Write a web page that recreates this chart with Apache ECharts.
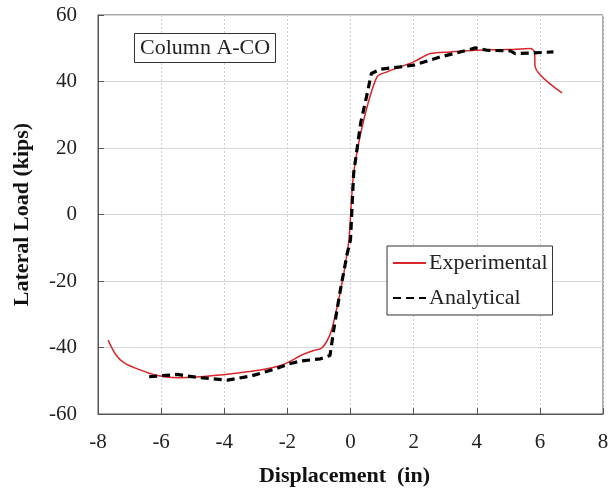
<!DOCTYPE html>
<html>
<head>
<meta charset="utf-8">
<script src="https://cdn.jsdelivr.net/npm/echarts@6/dist/echarts.min.js"></script>
<style>
  html, body { margin: 0; padding: 0; background: #fff; }
  #chart { width: 608px; height: 491px; }
</style>
</head>
<body>
<div id="chart"></div>
<script>
    // displacement (in) vs lateral load (kips)
    var expX = [-7.68, -7.44, -7.17, -6.65, -6.12, -5.48, -4.75, -3.70, -2.85, -2.22, -1.90, -1.58, -1.16, -0.90, -0.63, -0.42, -0.21, -0.05, 0.10, 0.42, 0.84, 1.16, 1.58, 2.00, 2.53, 3.16, 4.00, 4.96, 5.70, 5.83, 5.85, 6.70];
    var expY = [-37.8, -42.1, -44.6, -46.8, -48.4, -49.1, -48.8, -47.8, -46.8, -45.4, -44.1, -42.4, -40.9, -40.1, -35.6, -27.6, -17.6, -7.6, 12.4, 28.4, 41.4, 42.9, 44.4, 45.9, 48.4, 48.9, 49.4, 49.6, 49.9, 48.9, 44.4, 36.6];

    var anaX = [-6.38, -5.48, -5.17, -4.75, -3.90, -3.16, -2.43, -1.90, -1.58, -0.95, -0.65, -0.53, -0.32, -0.10, 0.00, 0.10, 0.32, 0.53, 0.66, 0.95, 1.58, 2.00, 2.85, 3.69, 3.96, 4.33, 5.06, 5.22, 5.80, 6.43];
    var anaY = [-48.8, -48.1, -48.6, -49.1, -49.8, -48.6, -46.6, -44.8, -44.1, -43.4, -42.4, -34.6, -22.6, -11.6, -7.6, 12.4, 27.4, 36.4, 42.4, 43.7, 44.4, 44.9, 47.4, 49.4, 50.1, 49.4, 49.2, 48.4, 48.6, 48.9];

    function pairs(xs, ys) {
        var out = [];
        for (var i = 0; i < xs.length; i++) {
            out.push([xs[i], ys[i]]);
        }
        return out;
    }

    var font = '"Liberation Serif", "Times New Roman", serif';
    var myChart = echarts.init(document.getElementById('chart'));

    var option = {
        animation: false,
        backgroundColor: '#fff',
        textStyle: { fontFamily: font },
        title: {
            text: 'Column A-CO',
            left: 134,
            top: 33,
            padding: [4, 6, 3, 6],
            borderColor: '#333',
            borderWidth: 1,
            backgroundColor: '#fff',
            textStyle: { fontFamily: font, fontSize: 22, lineHeight: 23, fontWeight: 'normal', color: '#222' }
        },
        legend: {
            orient: 'vertical',
            left: 387,
            top: 246,
            itemGap: 11,
            itemWidth: 33,
            itemHeight: 12,
            padding: [5, 5, 5, 5],
            borderColor: '#333',
            borderWidth: 1,
            backgroundColor: '#fff',
            textStyle: { fontFamily: font, fontSize: 22, lineHeight: 24, color: '#222', padding: [0, 0, 0, -2] },
            data: [
                { name: 'Experimental', itemStyle: { opacity: 0 } },
                { name: 'Analytical', itemStyle: { opacity: 0 } }
            ]
        },
        grid: { left: 98, right: 5, top: 15, bottom: 77, outerBoundsMode: 'none', containLabel: false, show: true, borderColor: '#555', borderWidth: 1 },
        xAxis: {
            type: 'value',
            min: -8,
            max: 8,
            interval: 2,
            name: 'Displacement  (in)',
            nameLocation: 'middle',
            nameGap: 51,
            nameTextStyle: { fontFamily: font, fontSize: 22, fontWeight: 'bold', color: '#111', padding: [0, 12, 0, 0] },
            axisLine: { show: true, onZero: false, lineStyle: { color: '#555' } },
            axisTick: { show: true, inside: true, length: 6, lineStyle: { color: '#555' } },
            axisLabel: { fontFamily: font, fontSize: 21, color: '#222', margin: 18 },
            splitLine: { show: true, lineStyle: { color: '#d0d0d0', type: [2, 2] } }
        },
        yAxis: {
            type: 'value',
            min: -60,
            max: 60,
            interval: 20,
            name: 'Lateral Load (kips)',
            nameLocation: 'middle',
            nameGap: 65,
            nameTextStyle: { fontFamily: font, fontSize: 22, fontWeight: 'bold', color: '#111' },
            axisLine: { show: true, onZero: false, lineStyle: { color: '#555' } },
            axisTick: { show: true, inside: true, length: 6, lineStyle: { color: '#555' } },
            axisLabel: { fontFamily: font, fontSize: 21, color: '#222', margin: 21 },
            splitLine: { show: true, lineStyle: { color: '#d6d6d6', width: 1 } }
        },
        series: [
            {
                name: 'Experimental',
                type: 'line',
                showSymbol: false,
                smooth: 0.3,
                data: pairs(expX, expY),
                lineStyle: { color: '#d9262c', width: 1.5 },
                itemStyle: { color: '#d9262c' }
            },
            {
                name: 'Analytical',
                type: 'line',
                showSymbol: false,
                data: pairs(anaX, anaY),
                lineStyle: { color: '#000', width: 3.2, type: [8, 5] },
                itemStyle: { color: '#000' }
            }
        ]
    };

    myChart.setOption(option);
</script>
</body>
</html>
